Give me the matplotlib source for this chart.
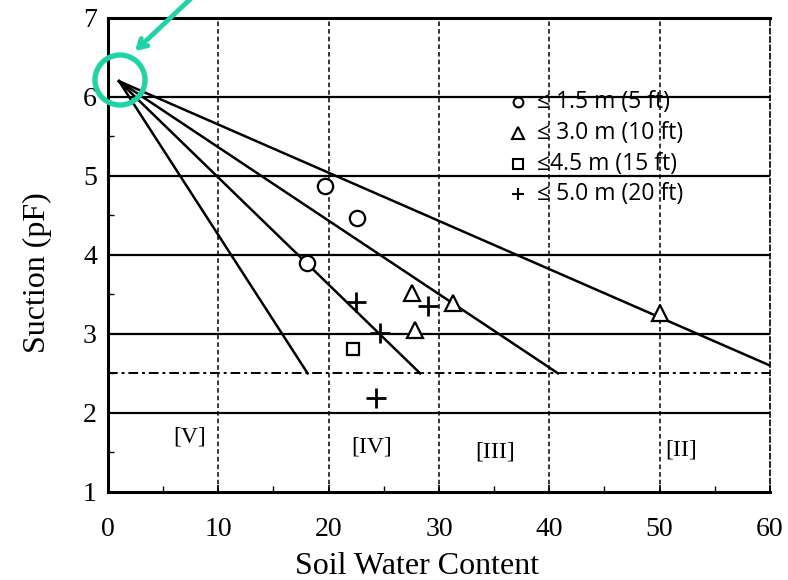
import matplotlib.pyplot as plt
from matplotlib.patches import Circle

# zone boundary lines, all fanning out from the common origin
apex = (1.0, 6.2)
line_end_x = [18.1, 28.3, 40.8, 60.0]
line_end_y = [2.5, 2.5, 2.5, 2.6]

# measured points by depth
circle_x = [19.7, 22.6, 18.0]
circle_y = [4.87, 4.47, 3.9]
tri_x = [27.6, 27.8, 31.3, 50.0]
tri_y = [3.52, 3.05, 3.39, 3.27]
square_x = [22.2]
square_y = [2.81]
plus_x = [22.5, 29.0, 24.7, 24.3]
plus_y = [3.4, 3.35, 3.01, 2.19]

legend_labels = ["≤ 1.5 m (5 ft)", "≤ 3.0 m (10 ft)", "≤4.5 m (15 ft)", "≤ 5.0 m (20 ft)"]
zone_labels = ["[V]", "[IV]", "[III]", "[II]"]
zone_x = [7.4, 23.9, 35.1, 52.0]
zone_y = [1.70, 1.57, 1.51, 1.53]
field_capacity = 2.5

plt.rcParams['font.family'] = ['Liberation Serif', 'DejaVu Serif']

fig = plt.figure(figsize=(7.88, 5.8), dpi=100)
ax = fig.add_axes([0.137, 0.152, 0.840, 0.817])

ax.set_xlim(0, 60)
ax.set_ylim(1, 7)

for y in range(2, 7):
    ax.axhline(y, color='black', lw=1.6, zorder=1)
for x in range(10, 60, 10):
    ax.axvline(x, color='black', lw=1.1, ls=(0, (3, 2)), zorder=1)
ax.axhline(field_capacity, color='black', lw=1.4, ls=(0, (5, 2, 1.5, 2)), zorder=1)

for ex, ey in zip(line_end_x, line_end_y):
    ax.plot([apex[0], ex], [apex[1], ey], color='black', lw=1.8, zorder=2)

ax.plot(circle_x, circle_y, 'o', ms=11, mfc='white', mec='black', mew=1.6, zorder=3)
ax.plot(tri_x, tri_y, '^', ms=11, mfc='white', mec='black', mew=1.6, zorder=3)
ax.plot(square_x, square_y, 's', ms=8, mfc='white', mec='black', mew=1.6, zorder=3)
ax.plot(plus_x, plus_y, '+', ms=14, mec='black', mew=2.0, zorder=3)

# legend drawn by hand inside the plot
leg_markers = [('o', 7), ('^', 8), ('s', 7), ('+', 9)]
leg_y = [0.822, 0.758, 0.692, 0.628]
for (m, s), ly, lab in zip(leg_markers, leg_y, legend_labels):
    ax.plot([0.62], [ly], m, ms=s, mfc='white', mec='black', mew=1.5,
            transform=ax.transAxes, zorder=4)
    ax.text(0.648, ly, lab, transform=ax.transAxes, fontsize=16.5,
            family=['Open Sans', 'DejaVu Sans'], va='center', ha='left', zorder=4)

for lab, zx, zy in zip(zone_labels, zone_x, zone_y):
    ax.text(zx, zy, lab, fontsize=17, ha='center', va='center')

ax.set_xticks(range(0, 61, 10))
ax.set_xticks(range(5, 60, 10), minor=True)
ax.set_yticks(range(1, 8))
ax.set_yticks([1.5, 2.5, 3.5, 4.5, 5.5, 6.5], minor=True)
ax.tick_params(axis='both', which='major', direction='in', length=5, width=1.2,
               labelsize=20)
ax.tick_params(axis='x', which='major', pad=18)
ax.tick_params(axis='y', which='major', pad=8)
ax.tick_params(which='minor', direction='in', length=4, width=1.0)
ax.set_xlabel('Soil Water Content', fontsize=23, labelpad=7)
ax.set_ylabel('Suction (pF)', fontsize=23, labelpad=22)
ax.xaxis.label.set_x(0.467)
ax.yaxis.label.set_y(0.462)

for side in ['left', 'bottom', 'top']:
    ax.spines[side].set_linewidth(2.2)
ax.spines['right'].set_linewidth(1.2)
ax.spines['right'].set_linestyle((0, (3, 2)))

# highlight around the convergence point
teal = '#1fd3a6'
fig.patches.append(Circle((1.20, 5.00), 0.25, transform=fig.dpi_scale_trans,
                          fill=False, ec=teal, lw=3.8, zorder=10))
ax.annotate('', xy=(1.33, 5.27), xycoords=fig.dpi_scale_trans,
            xytext=(2.0, 5.9), textcoords=fig.dpi_scale_trans,
            arrowprops=dict(arrowstyle='->,head_length=0.6,head_width=0.35',
                            color=teal, lw=3.5), annotation_clip=False, zorder=10)

fig.savefig('out.png', dpi=100)
